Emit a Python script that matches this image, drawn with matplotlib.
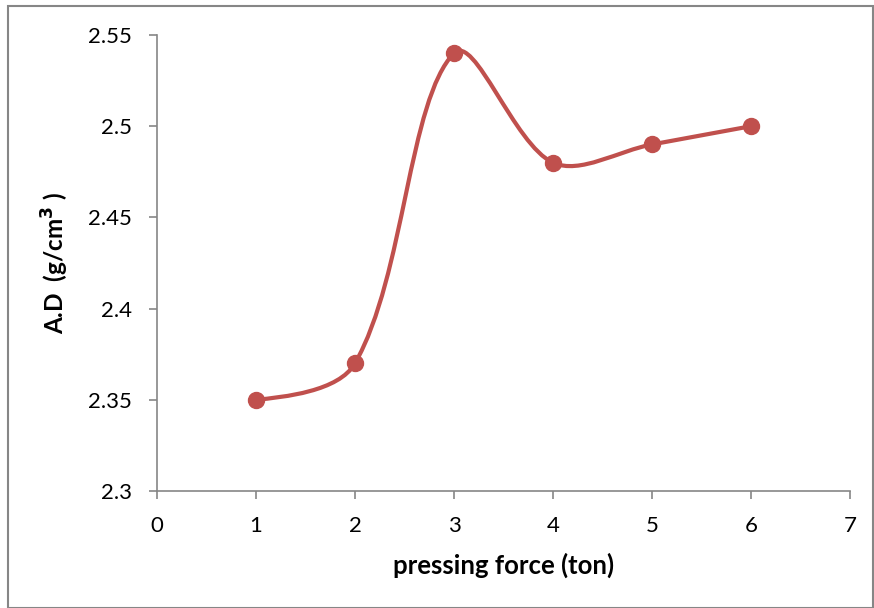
import matplotlib
matplotlib.use("Agg")
import matplotlib.pyplot as plt
from matplotlib.path import Path
from matplotlib.patches import PathPatch, Rectangle
import numpy as np

force = [1, 2, 3, 4, 5, 6]
density = [2.35, 2.37, 2.54, 2.48, 2.49, 2.50]
xticks = [0, 1, 2, 3, 4, 5, 6, 7]
yticks = [2.3, 2.35, 2.4, 2.45, 2.5, 2.55]
ytick_labels = ["2.3", "2.35", "2.4", "2.45", "2.5", "2.55"]

plt.rcParams['font.family'] = ['Lato', 'DejaVu Sans']
color = '#C0504D'
gray = '#868686'

fig = plt.figure(figsize=(8.74, 6.08), dpi=100)
ax = fig.add_axes([157/874, (608-491)/608, (850-157)/874, (491-35)/608])
ax.set_xlim(0, 7)
ax.set_ylim(2.3, 2.55)

# Excel-style smoothed line: cubic Bezier, tangents weighted by screen segment lengths
pts = np.column_stack([force, density]).astype(float)
pix = ax.transData.transform(pts)
n = len(pts)

def seglen(a, b):
    return np.hypot(*(pix[b] - pix[a]))

# control points at interior points
out_ctrl = {}
in_ctrl = {}
for i in range(1, n - 1):
    T = pts[i + 1] - pts[i - 1]
    lin = seglen(i - 1, i)
    lout = seglen(i, i + 1)
    out_ctrl[i] = pts[i] + T * (lout / (lin + lout)) / 3.0
    in_ctrl[i] = pts[i] - T * (lin / (lin + lout)) / 3.0
# end points: aim toward the neighbouring control point
out_ctrl[0] = pts[0] + (in_ctrl[1] - pts[0]) / 3.0
in_ctrl[n - 1] = pts[n - 1] + (out_ctrl[n - 2] - pts[n - 1]) / 3.0

verts = [tuple(pts[0])]
codes = [Path.MOVETO]
for i in range(n - 1):
    verts += [tuple(out_ctrl[i]), tuple(in_ctrl[i + 1]), tuple(pts[i + 1])]
    codes += [Path.CURVE4] * 3
patch = PathPatch(Path(verts, codes), facecolor='none', edgecolor=color, lw=3,
                  transform=ax.transData, zorder=2, capstyle='round', joinstyle='round')
ax.add_patch(patch)
ax.plot(force, density, linestyle='none', marker='o', markersize=11.5,
        markerfacecolor=color, markeredgecolor=color, zorder=3)

ax.set_xticks(xticks)
ax.set_yticks(yticks)
ax.set_yticklabels(ytick_labels)
for s in ['top', 'right']:
    ax.spines[s].set_visible(False)
for s in ['left', 'bottom']:
    ax.spines[s].set_color(gray)
    ax.spines[s].set_linewidth(1.2)
ax.tick_params(axis='both', direction='out', length=6, width=1.2, color=gray,
               labelsize=16, labelcolor='black', pad=12)
ax.set_xlabel('pressing force (ton)', fontsize=18.5, fontweight='bold', labelpad=12)
ax.set_ylabel('A.D  (g/cm$^\\mathbf{3}$ )', fontsize=17.5, fontweight='bold', labelpad=12)

# outer chart frame
fig.patches.append(Rectangle((8/874, 0.0), 1 - 8/874 - 0.001, (608-6)/608,
                             transform=fig.transFigure, fill=False,
                             edgecolor=gray, lw=1.5))

fig.savefig('out.png', dpi=100)
